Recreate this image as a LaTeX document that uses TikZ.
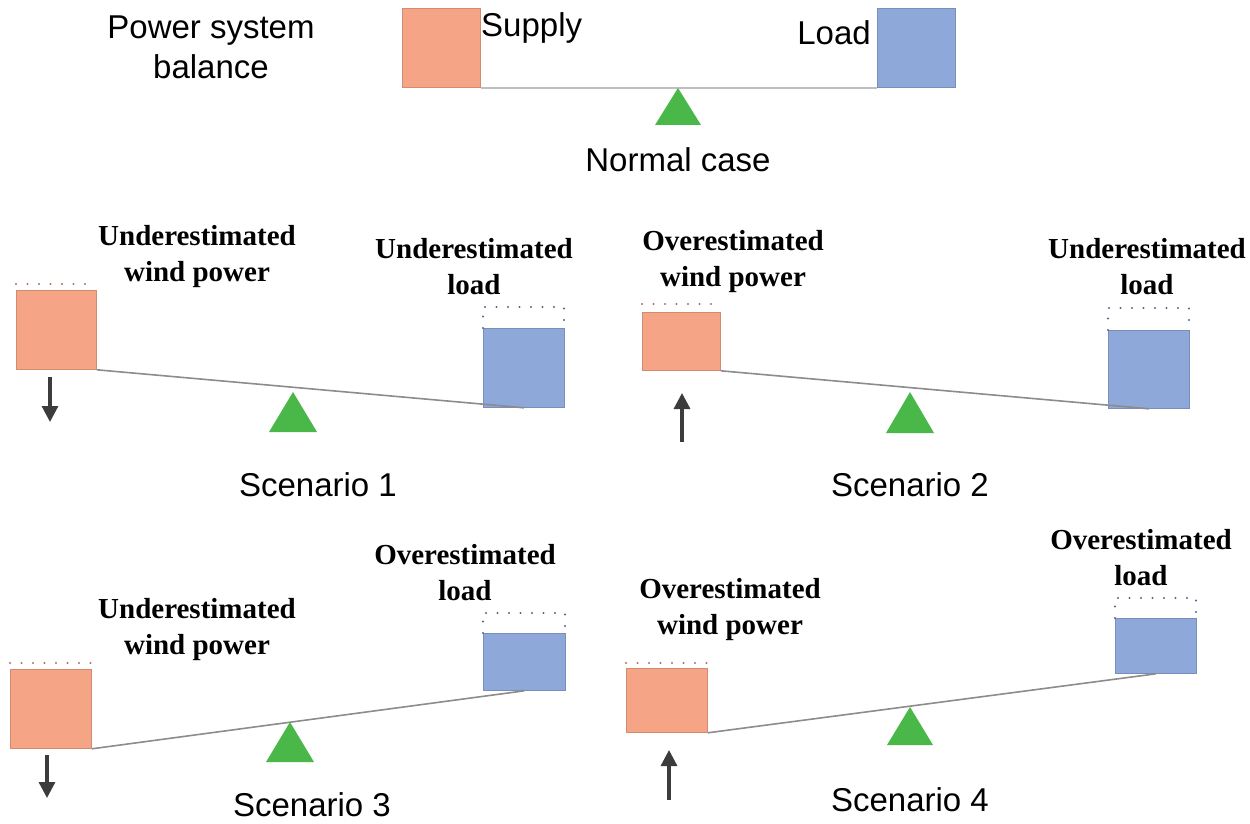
\documentclass[tikz,border=0pt]{standalone}
\usepackage{fontspec}
\setmainfont{Liberation Serif}
\setsansfont{Liberation Sans}
\usetikzlibrary{arrows.meta}

\definecolor{supplyred}{RGB}{245,164,133}
\definecolor{loadblue}{RGB}{142,168,218}
\definecolor{fulcrumgreen}{RGB}{74,184,72}
\definecolor{arrowgrey}{RGB}{60,60,60}

\tikzset{
    supply/.style={draw=supplyred!85!black, fill=supplyred, line width=0.8, inner sep=0, anchor=north west},
    load/.style={draw=loadblue!85!black, fill=loadblue, line width=0.8, inner sep=0, anchor=north west},
    beam/.style={draw=black!45, line width=1.6},
    fulcrum/.style={fill=fulcrumgreen},
    dotsup/.style={draw=supplyred!70!black, line width=2.4, line cap=round, dash pattern=on 0pt off 11.5pt},
    dotload/.style={draw=loadblue!60!black, line width=2.4, line cap=round, dash pattern=on 0pt off 11.5pt},
    move/.style={draw=arrowgrey, line width=3.2, -{Triangle[width=16pt,length=16pt]}},
    plain/.style={font=\sffamily\fontsize{33}{40}\selectfont, align=center, inner sep=0},
    bold/.style={font=\rmfamily\bfseries\fontsize{29}{36}\selectfont, align=center, inner sep=0}
}

\begin{document}
\begin{tikzpicture}[x=1pt, y=-1pt]
        \useasboundingbox (0,0) rectangle (1250,824);

        % normal case
        \node[plain] (title) at (211,47) {Power system\\balance};
        \node[supply, minimum width=78, minimum height=79] (s0) at (402,8) {};
        \node[load, minimum width=78, minimum height=79] (l0) at (877,8) {};
        \node[plain, anchor=west] (sup0) at (481,28) {Supply};
        \node[plain, anchor=east] (lo0) at (871,33) {Load};
        \draw[beam, draw=black!25, line width=2.4] (s0.south east) -- (l0.south west);
        \fill[fulcrum] (678,88) -- (701,125) -- (655,125) -- cycle;
        \node[plain] (c0) at (678,160) {Normal case};

        % scenario 1
        \node[bold] (w1) at (197,257) {Underestimated\\wind power};
        \node[bold] (d1) at (474,267) {Underestimated\\load};
        \node[supply, minimum width=80, minimum height=79] (s1) at (16,290) {};
        \node[load, minimum width=81, minimum height=79] (l1) at (483,328) {};
        \draw[dotsup] (s1.north west) ++(0,-6) -- ++(80,0);
        \draw[dotload] (l1.north west) -- ++(0,-21) -- ++(81,0) -- ++(0,21);
        \draw[beam] (s1.south east) -- (l1.south);
        \fill[fulcrum] (293,392) -- (317,432) -- (269,432) -- cycle;
        \draw[move] (50,377) -- (50,422);
        \node[plain] (c1) at (318,485) {Scenario 1};

        % scenario 2
        \node[bold] (w2) at (733,262) {Overestimated\\wind power};
        \node[bold] (d2) at (1147,267) {Underestimated\\load};
        \node[supply, minimum width=78, minimum height=58] (s2) at (642,312) {};
        \node[load, minimum width=81, minimum height=78] (l2) at (1108,330) {};
        \draw[dotsup] (s2.north west) ++(0,-8) -- ++(78,0);
        \draw[dotload] (l2.north west) -- ++(0,-22) -- ++(81,0) -- ++(0,22);
        \draw[beam] (s2.south east) -- (l2.south);
        \fill[fulcrum] (910,392) -- (934,433) -- (886,433) -- cycle;
        \draw[move] (682,442) -- (682,393);
        \node[plain] (c2) at (910,485) {Scenario 2};

        % scenario 3
        \node[bold] (w3) at (197,630) {Underestimated\\wind power};
        \node[bold] (d3) at (465,573) {Overestimated\\load};
        \node[supply, minimum width=81, minimum height=79] (s3) at (10,669) {};
        \node[load, minimum width=82, minimum height=57] (l3) at (483,633) {};
        \draw[dotsup] (s3.north west) ++(0,-6) -- ++(81,0);
        \draw[dotload] (l3.north west) -- ++(0,-20) -- ++(82,0) -- ++(0,20);
        \draw[beam] (s3.south east) -- (l3.south);
        \fill[fulcrum] (290,722) -- (314,762) -- (266,762) -- cycle;
        \draw[move] (47,755) -- (47,798);
        \node[plain] (c3) at (312,805) {Scenario 3};

        % scenario 4
        \node[bold] (w4) at (730,610) {Overestimated\\wind power};
        \node[bold] (d4) at (1141,558) {Overestimated\\load};
        \node[supply, minimum width=81, minimum height=64] (s4) at (626,668) {};
        \node[load, minimum width=81, minimum height=55] (l4) at (1115,618) {};
        \draw[dotsup] (s4.north west) ++(0,-5) -- ++(81,0);
        \draw[dotload] (l4.north west) -- ++(0,-20) -- ++(81,0) -- ++(0,20);
        \draw[beam] (s4.south east) -- (l4.south);
        \fill[fulcrum] (910,707) -- (933,745) -- (887,745) -- cycle;
        \draw[move] (669,800) -- (669,750);
        \node[plain] (c4) at (910,800) {Scenario 4};

\end{tikzpicture}
\end{document}
